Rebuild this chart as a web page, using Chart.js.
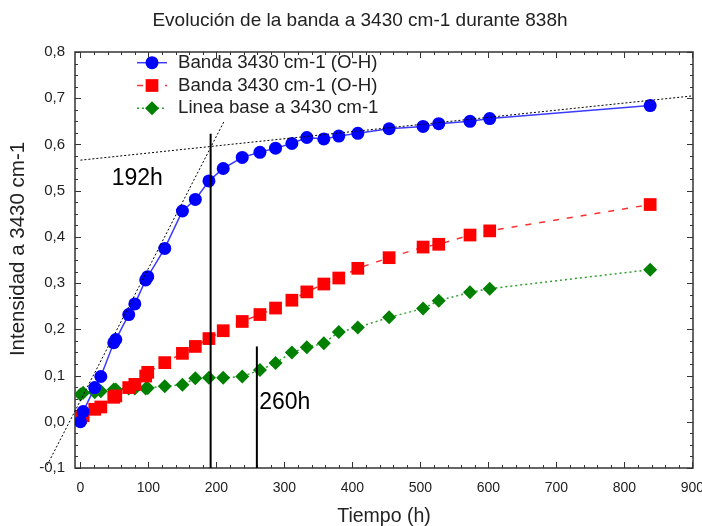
<!DOCTYPE html>
<html>
<head>
<meta charset="utf-8">
<script src="https://cdn.jsdelivr.net/npm/chart.js@4.4.1/dist/chart.umd.min.js"></script>
<style>
    html, body { margin: 0; padding: 0; background: #fff; }
    #wrap { width: 702px; height: 526px; }
</style>
</head>
<body>
<div id="wrap"><canvas id="chart" width="702" height="526"></canvas></div>
<script>
// Datos
const tiempos = [0, 4, 21, 30, 49, 52, 71, 80, 96, 99, 124, 150, 169, 189, 210, 238, 264, 287, 311, 333, 358, 380, 408, 454, 504, 527, 573, 602, 838];
const bandaAzul = [0.000, 0.022, 0.074, 0.098, 0.171, 0.178, 0.232, 0.255, 0.307, 0.314, 0.375, 0.456, 0.481, 0.521, 0.548, 0.572, 0.583, 0.592, 0.602, 0.615, 0.612, 0.618, 0.624, 0.634, 0.639, 0.645, 0.650, 0.656, 0.684];
const bandaRoja = [0.009, 0.013, 0.027, 0.032, 0.053, 0.056, 0.074, 0.081, 0.099, 0.107, 0.128, 0.148, 0.163, 0.180, 0.197, 0.217, 0.232, 0.246, 0.263, 0.281, 0.298, 0.311, 0.332, 0.355, 0.378, 0.384, 0.404, 0.413, 0.470];
const lineaBase = [0.059, 0.063, 0.064, 0.066, 0.070, 0.070, 0.072, 0.072, 0.072, 0.073, 0.077, 0.080, 0.094, 0.095, 0.095, 0.098, 0.112, 0.127, 0.150, 0.161, 0.170, 0.194, 0.204, 0.226, 0.245, 0.262, 0.280, 0.288, 0.329];

const xTicks = [0, 100, 200, 300, 400, 500, 600, 700, 800, 900];
const yTicks = [-0.1, 0.0, 0.1, 0.2, 0.3, 0.4, 0.5, 0.6, 0.7, 0.8];

// rectas de ayuda (tangentes) y marcas verticales
const tangenteX = [-49, 212];
const tangenteY = [-0.094, 0.652];
const mesetaX = [0, 900];
const mesetaY = [0.566, 0.705];
const marcas = [191.5, 259.5];
const marcasTope = [0.623, 0.163];
const textos = ['192h', '260h'];
const textosX = [46, 263];
const textosY = [0.525, 0.042];

const FUENTE = "'Liberation Sans', Arial, sans-serif";
const puntos = (xs, ys) => xs.map((t, i) => ({ x: t, y: ys[i] }));

const series = [
    { label: 'Banda 3430 cm-1 (O-H)', data: bandaAzul, color: '#0000ff', linea: '#3b3bff', estilo: 'circle', radio: 6.5, dash: [] },
    { label: 'Banda 3430 cm-1 (O-H)', data: bandaRoja, color: '#ff0000', linea: '#ff3030', estilo: 'rect', radio: 9, dash: [6, 8] },
    { label: 'Linea base a 3430 cm-1', data: lineaBase, color: '#008000', linea: '#2ea02e', estilo: 'rectRot', radio: 7, dash: [2, 3] }
];

const ayudas = [
    { data: puntos(tangenteX, tangenteY), borderColor: '#000', borderWidth: 1, borderDash: [2, 2], pointRadius: 0, showLine: true, clip: false },
    { data: puntos(mesetaX, mesetaY), borderColor: '#000', borderWidth: 1, borderDash: [2, 2], pointRadius: 0, showLine: true, clip: false }
];
marcas.forEach((m, i) => {
    ayudas.push({ data: puntos([m, m], [-0.1, marcasTope[i]]), borderColor: '#000', borderWidth: 2, pointRadius: 0, showLine: true });
});

// marco con marcas hacia dentro, leyenda y textos
const marco = {
    id: 'marco',
    beforeDatasetsDraw(chart) {
        const { ctx, chartArea: a, scales: { x, y } } = chart;
        ctx.save();
        ctx.strokeStyle = '#333';
        ctx.lineWidth = 1.5;
        ctx.strokeRect(a.left, a.top, a.right - a.left, a.bottom - a.top);
        ctx.lineWidth = 1;
        ctx.beginPath();
        const pasoX = (xTicks[1] - xTicks[0]) / 5;
        for (let k = 0; k <= (xTicks.length - 1) * 5; k++) {
            const px = Math.round(x.getPixelForValue(xTicks[0] + k * pasoX)) + 0.5;
            const len = k % 5 === 0 ? 6 : 3;
            ctx.moveTo(px, a.bottom); ctx.lineTo(px, a.bottom - len);
            ctx.moveTo(px, a.top); ctx.lineTo(px, a.top + len);
        }
        const pasoY = (yTicks[1] - yTicks[0]) / 4;
        for (let k = 0; k <= (yTicks.length - 1) * 4; k++) {
            const py = Math.round(y.getPixelForValue(yTicks[0] + k * pasoY)) + 0.5;
            const len = k % 4 === 0 ? 6 : 3;
            ctx.moveTo(a.left, py); ctx.lineTo(a.left + len, py);
            ctx.moveTo(a.right, py); ctx.lineTo(a.right - len, py);
        }
        ctx.stroke();
        ctx.restore();
    },
    afterDraw(chart) {
        const { ctx, chartArea: a, scales: { x, y } } = chart;
        ctx.save();
        ctx.fillStyle = '#222';
        ctx.textBaseline = 'middle';

        // título
        ctx.font = '19px ' + FUENTE;
        ctx.textAlign = 'center';
        ctx.fillText('Evolución de la banda a 3430 cm-1 durante 838h', 360, 21);

        // títulos de ejes
        ctx.font = '19.5px ' + FUENTE;
        ctx.fillText('Tiempo (h)', (a.left + a.right) / 2, 517);
        ctx.save();
        ctx.translate(18, 249);
        ctx.rotate(-Math.PI / 2);
        ctx.font = '20.5px ' + FUENTE;
        ctx.fillText('Intensidad a 3430 cm-1', 0, 0);
        ctx.restore();

        // textos 192h / 260h
        ctx.font = '23px ' + FUENTE;
        ctx.textAlign = 'left';
        ctx.fillStyle = '#000';
        textos.forEach((t, i) => ctx.fillText(t, x.getPixelForValue(textosX[i]), y.getPixelForValue(textosY[i])));

        // leyenda
        ctx.font = '18.7px ' + FUENTE;
        series.forEach((s, i) => {
            const cy = 62.7 + i * 22.8;
            ctx.strokeStyle = s.linea;
            ctx.lineWidth = 1.5;
            ctx.setLineDash(s.dash);
            ctx.beginPath();
            ctx.moveTo(137, cy); ctx.lineTo(167, cy);
            ctx.stroke();
            ctx.setLineDash([]);
            ctx.fillStyle = s.color;
            ctx.beginPath();
            const r = s.radio;
            if (s.estilo === 'circle') ctx.arc(152, cy, r, 0, Math.PI * 2);
            else if (s.estilo === 'rect') ctx.rect(152 - r * 0.707, cy - r * 0.707, r * 1.414, r * 1.414);
            else { ctx.moveTo(152, cy - r); ctx.lineTo(152 + r, cy); ctx.lineTo(152, cy + r); ctx.lineTo(152 - r, cy); ctx.closePath(); }
            ctx.fill();
            ctx.fillStyle = '#222';
            ctx.fillText(s.label, 178, cy);
        });
        ctx.restore();
    }
};

new Chart(document.getElementById('chart'), {
    type: 'scatter',
    data: {
        datasets: [
            ...ayudas,
            ...series.map(s => ({
                label: s.label,
                data: puntos(tiempos, s.data),
                showLine: true,
                borderColor: s.linea,
                borderWidth: 1.5,
                borderDash: s.dash,
                backgroundColor: s.color,
                pointBackgroundColor: s.color,
                pointBorderColor: s.color,
                pointBorderWidth: 0,
                pointStyle: s.estilo,
                pointRadius: s.radio,
                tension: 0
            }))
        ]
    },
    options: {
        responsive: false,
        animation: false,
        devicePixelRatio: 1,
        layout: { padding: { top: 52, right: 7, left: 0, bottom: 0 } },
        plugins: { legend: { display: false }, title: { display: false }, tooltip: { enabled: false } },
        scales: {
            x: {
                type: 'linear', min: -8, max: 901,
                afterBuildTicks: s => { s.ticks = xTicks.map(v => ({ value: v })); },
                afterFit: s => { s.height = 58; s.paddingLeft = 0; s.paddingRight = 0; },
                grid: { display: false, drawTicks: false },
                border: { display: false },
                ticks: { color: '#222', font: { family: FUENTE, size: 14 }, padding: 12, maxRotation: 0, autoSkip: false }
            },
            y: {
                type: 'linear', min: -0.1, max: 0.8,
                afterBuildTicks: s => { s.ticks = yTicks.map(v => ({ value: v })); },
                afterFit: s => { s.width = 75; s.paddingTop = 0; s.paddingBottom = 0; },
                grid: { display: false, drawTicks: false },
                border: { display: false },
                ticks: {
                    color: '#222', font: { family: FUENTE, size: 15 }, padding: 10, autoSkip: false,
                    callback: v => v.toFixed(1).replace('.', ',')
                }
            }
        }
    },
    plugins: [marco]
});
</script>
</body>
</html>
